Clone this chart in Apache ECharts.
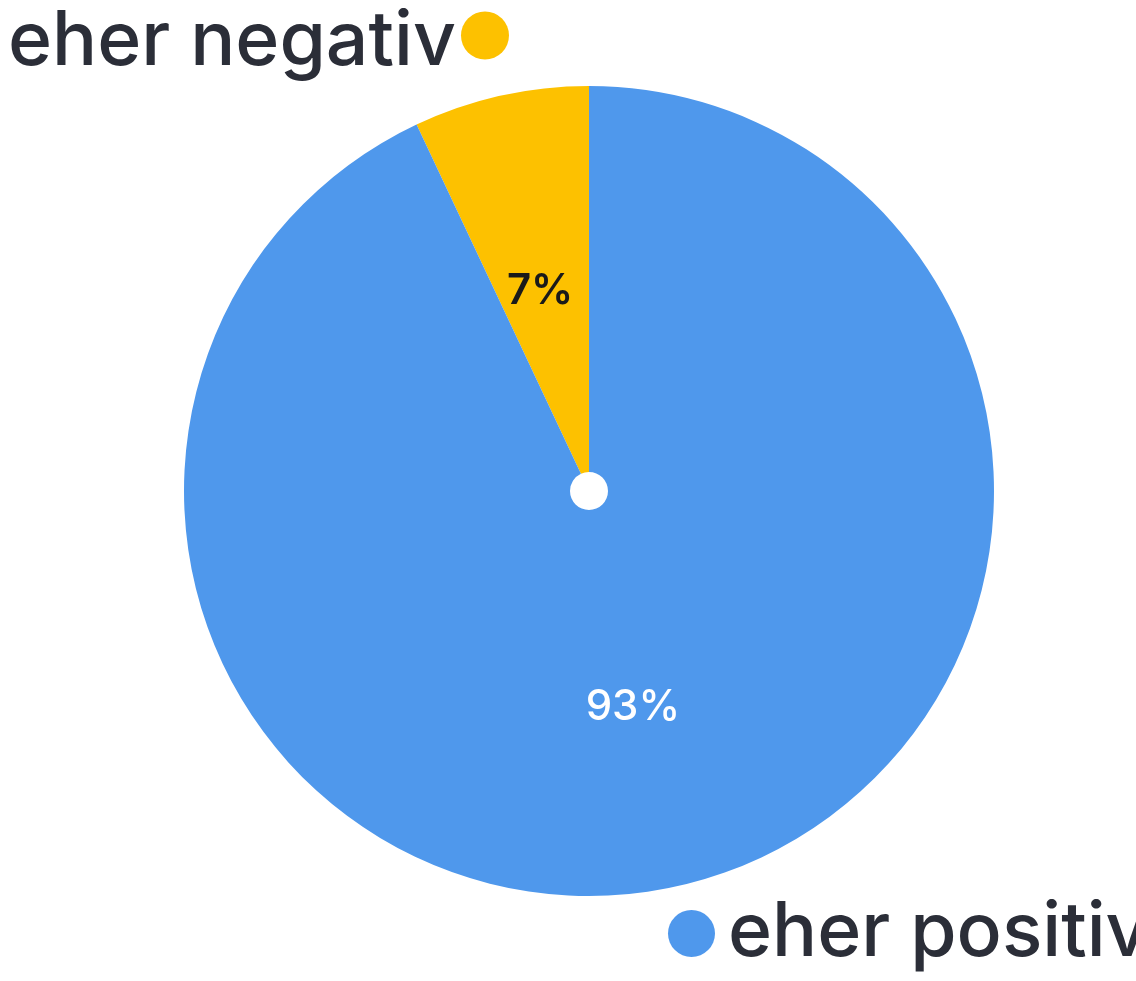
<!DOCTYPE html>
<html>
<head>
<meta charset="utf-8">
<script src="https://cdn.jsdelivr.net/npm/echarts@6/dist/echarts.min.js"></script>
<style>
html,body{margin:0;padding:0;background:#fff;}
#chart{width:1136px;height:981px;}
</style>
</head>
<body>
<div id="chart"></div>
<script>
const categories = ['eher negativ', 'eher positiv'];
const values = [7, 93];
const colors = ['#FDC100', '#4F98EC'];

const legendFont = { fontFamily: 'Inter', fontWeight: 500, fontSize: 75, color: '#2B2E38' };

const chart = echarts.init(document.getElementById('chart'));
chart.setOption({
  backgroundColor: '#ffffff',
  animation: false,
  color: colors,
  legend: [
    {
      data: [categories[0]],
      left: 8, top: 5,
      padding: 0,
      align: 'right',
      icon: 'circle',
      itemWidth: 48, itemHeight: 48,
      selectedMode: false,
      formatter: '{t|{name}}',
      textStyle: Object.assign({}, legendFont, {
        rich: { t: Object.assign({}, legendFont, { padding: [14, 0, 0, 0] }) }
      })
    },
    {
      data: [categories[1]],
      left: 668, top: 896,
      padding: 0,
      align: 'left',
      icon: 'circle',
      itemWidth: 47, itemHeight: 47,
      selectedMode: false,
      textStyle: Object.assign({}, legendFont, { padding: [0, 0, 0, 8] })
    }
  ],
  series: [{
    type: 'pie',
    center: [589, 491],
    radius: [19, 405],
    startAngle: 90,
    clockwise: false,
    avoidLabelOverlap: false,
    label: {
      show: true,
      position: 'inner',
      fontFamily: 'Inter',
      formatter: '{c}%'
    },
    labelLayout: function (params) {
      return params.dataIndex === 0 ? { dx: -2, dy: 10 } : { dx: -3, dy: 7 };
    },
    labelLine: { show: false },
    data: categories.map((c, i) => ({
      name: c,
      value: values[i],
      label: i === 0
        ? { color: '#1a1a1a', fontSize: 42, fontWeight: 600 }
        : { color: '#ffffff', fontSize: 42, fontWeight: 500 }
    }))
  }]
});
</script>
</body>
</html>
